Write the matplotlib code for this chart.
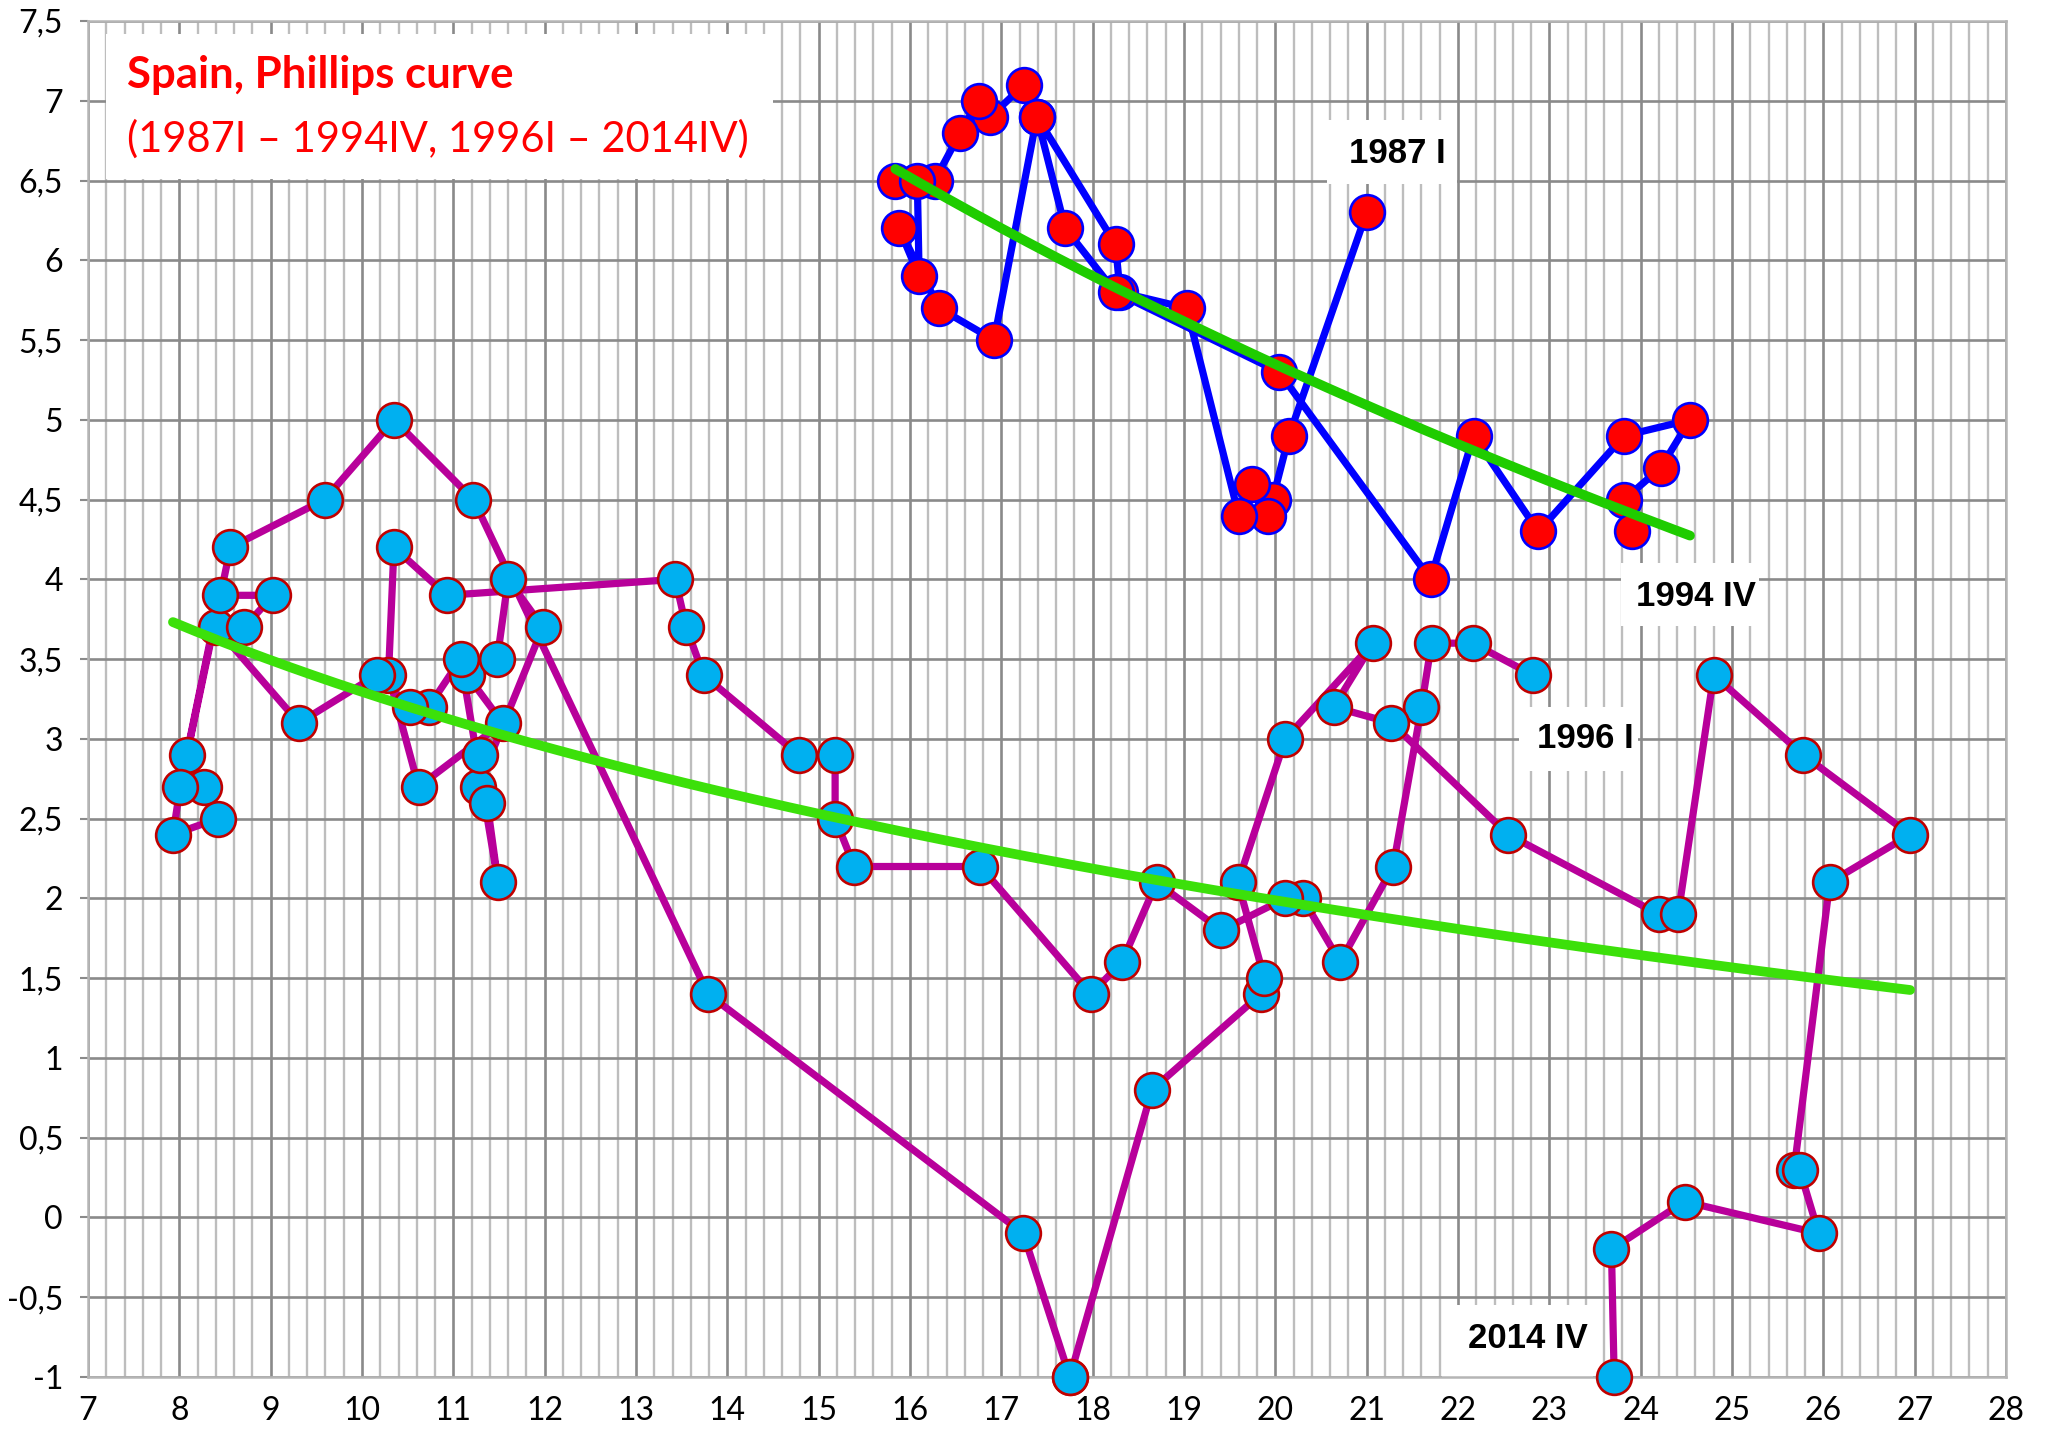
import numpy as np
import matplotlib
matplotlib.use("Agg")
import matplotlib.pyplot as plt
from matplotlib.ticker import MultipleLocator, FuncFormatter
from matplotlib.patches import Rectangle

# ---------------- data (unemployment %, inflation %) ----------------
# 1987 I - 1994 IV
u_8794 = [21.0, 20.15, 19.97, 19.74, 19.92, 19.6, 19.03, 18.3, 18.25, 17.39,
          17.25, 16.88, 16.75, 16.55, 16.27, 15.84, 16.08, 16.10, 15.88, 16.32,
          16.92, 17.39, 17.70, 18.25, 20.04, 21.7, 22.17, 22.88, 23.82, 24.54,
          24.22, 23.82, 23.9]
p_8794 = [6.3, 4.9, 4.5, 4.6, 4.4, 4.4, 5.7, 5.8, 6.1, 6.9,
          7.1, 6.9, 7.0, 6.8, 6.5, 6.5, 6.5, 5.9, 6.2, 5.7,
          5.5, 6.9, 6.2, 5.8, 5.3, 4.0, 4.9, 4.3, 4.9, 5.0,
          4.7, 4.5, 4.3]

# 1996 I - 2014 IV
u_9614 = [22.82, 22.16, 21.71, 21.60, 21.29, 20.71, 20.30, 20.11,
          19.41, 18.70, 18.32, 17.98, 16.77, 15.39, 15.18, 15.18,
          14.78, 13.74, 13.55, 13.43, 10.93, 10.35, 10.29, 10.62,
          11.54, 11.15, 11.48, 11.60, 11.98, 11.27, 11.29, 11.37,
          11.49, 11.08, 10.73, 10.53, 10.16, 9.31, 8.40, 8.71,
          9.03, 8.44, 8.08, 8.27, 8.42, 7.93, 8.01, 8.56,
          9.59, 10.35, 11.22, 13.79, 17.24, 17.75, 17.75, 18.65,
          19.84, 19.88, 19.59, 20.11, 21.07, 20.64, 21.27, 22.55,
          24.20, 24.41, 24.80, 25.78, 26.95, 26.07, 25.68, 25.74,
          25.95, 24.48, 23.68, 23.71]
p_9614 = [3.4, 3.6, 3.6, 3.2, 2.2, 1.6, 2.0, 2.0,
          1.8, 2.1, 1.6, 1.4, 2.2, 2.2, 2.5, 2.9,
          2.9, 3.4, 3.7, 4.0, 3.9, 4.2, 3.4, 2.7,
          3.1, 3.4, 3.5, 4.0, 3.7, 2.7, 2.9, 2.6,
          2.1, 3.5, 3.2, 3.2, 3.4, 3.1, 3.7, 3.7,
          3.9, 3.9, 2.9, 2.7, 2.5, 2.4, 2.7, 4.2,
          4.5, 5.0, 4.5, 1.4, -0.1, -1.0, -1.0, 0.8,
          1.4, 1.5, 2.1, 3.0, 3.6, 3.2, 3.1, 2.4,
          1.9, 1.9, 3.4, 2.9, 2.4, 2.1, 0.3, 0.3,
          -0.1, 0.1, -0.2, -1.0]

title_line1 = "Spain, Phillips curve"
title_line2 = "(1987I \u2013 1994IV, 1996I \u2013 2014IV)"
labels = ["1987 I", "1994 IV", "1996 I", "2014 IV"]
label_xy = [(21.34, 6.67), (24.61, 3.89), (23.40, 3.00), (22.76, -0.76)]
label_boxes = [(20.57, 6.48, 1.42, 0.40), (23.78, 3.71, 1.52, 0.39),
               (22.67, 2.80, 1.30, 0.40), (21.82, -1.0, 1.66, 0.45)]

# ---------------- figure ----------------
W, H = 2049, 1436
fig = plt.figure(figsize=(W / 100, H / 100), dpi=100)
ax = fig.add_axes([88 / W, 1 - 1377 / H, (2006 - 88) / W, (1377 - 21) / H])
ax.set_xlim(7, 28)
ax.set_ylim(-1, 7.5)

ax.xaxis.set_major_locator(MultipleLocator(1))
ax.xaxis.set_minor_locator(MultipleLocator(0.2))
ax.yaxis.set_major_locator(MultipleLocator(0.5))


def yfmt(v, pos):
    s = ("%.1f" % v).rstrip("0").rstrip(".")
    return s.replace(".", ",")


ax.yaxis.set_major_formatter(FuncFormatter(yfmt))
ax.xaxis.set_major_formatter(FuncFormatter(lambda v, p: "%d" % round(v)))

ax.set_axisbelow(True)
ax.grid(which="minor", axis="x", color="#bdbdbd", lw=1.7)
ax.grid(which="major", axis="x", color="#8a8a8a", lw=1.9)
ax.grid(which="major", axis="y", color="#8a8a8a", lw=1.9)

for s in ax.spines.values():
    s.set_color("#b5b5b5")
    s.set_linewidth(1.8)

ax.tick_params(axis="x", which="both", length=0, pad=14, labelsize=23)
ax.tick_params(axis="y", which="major", length=6, width=1.5, color="#8a8a8a",
               pad=12, labelsize=23)
for lab in ax.get_xticklabels() + ax.get_yticklabels():
    lab.set_family("Lato")

# white boxes behind texts
ax.add_patch(Rectangle((7.2, 6.51), 14.5 - 7.2, 7.42 - 6.51, facecolor="white",
                       edgecolor="none", zorder=1))
for (bx, by, bw, bh) in label_boxes:
    ax.add_patch(Rectangle((bx, by), bw, bh, facecolor="white",
                           edgecolor="none", zorder=1))

# series
ax.plot(u_8794, p_8794, color="#0000FF", lw=5.2, marker="o", ms=25,
        mfc="#FF0000", mec="#0000FF", mew=1.9, zorder=3, clip_on=False)
ax.plot(u_9614, p_9614, color="#B8009A", lw=5.2, marker="o", ms=25,
        mfc="#00B0F0", mec="#C00000", mew=1.9, zorder=3, clip_on=False)

# logarithmic trend lines
for ux, py, col in [(u_8794, p_8794, "#1FCC00"), (u_9614, p_9614, "#3CE00A")]:
    ux = np.asarray(ux)
    py = np.asarray(py)
    b, a = np.polyfit(np.log(ux), py, 1)
    xs = np.linspace(ux.min(), ux.max(), 300)
    ax.plot(xs, a + b * np.log(xs), color=col, lw=7,
            solid_capstyle="round", zorder=4)

# texts
ax.text(7.43, 7.16, title_line1, color="#FF0000", fontsize=31.5,
        fontweight="bold", family="Lato", ha="left", va="center", zorder=5)
ax.text(7.43, 6.76, title_line2, color="#FF0000", fontsize=30,
        family="Lato", ha="left", va="center", zorder=5)
for t, (tx, ty) in zip(labels, label_xy):
    ax.text(tx, ty, t, fontsize=25, fontweight="bold",
            family=["Liberation Sans", "DejaVu Sans"], ha="center",
            va="center", color="black", zorder=5)

fig.savefig("out.png", dpi=100)
